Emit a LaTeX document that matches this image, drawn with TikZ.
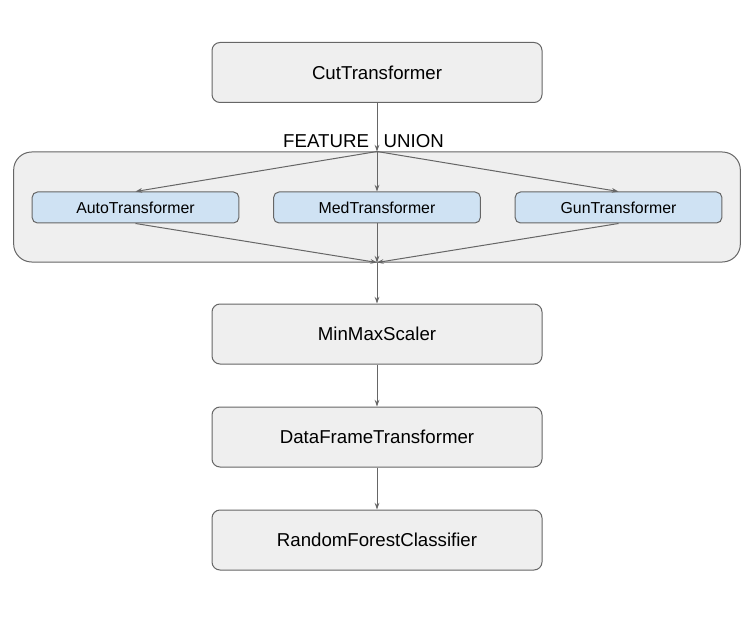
\documentclass[tikz,border=0pt]{standalone}
\usepackage{fontspec}
\setmainfont{Liberation Sans}
\usetikzlibrary{arrows.meta}

\definecolor{boxgray}{HTML}{EFEFEF}
\definecolor{linegray}{HTML}{666666}
\definecolor{stepblue}{HTML}{CFE2F3}

\tikzset{
    stage/.style={draw=linegray, fill=boxgray, line width=0.75pt, rounded corners=6pt,
        minimum width=247.5pt, minimum height=45pt, font=\fontsize{14}{16}\selectfont},
    substage/.style={draw=linegray, fill=stepblue, line width=0.75pt, rounded corners=4pt,
        minimum width=155pt, minimum height=23.25pt, font=\fontsize{11.9}{13}\selectfont},
    flow/.style={draw=linegray, line width=0.75pt, -{Stealth[length=5pt,width=3.5pt]}}
}

\begin{document}
\begin{tikzpicture}[x=0.75pt, y=-0.75pt]
        \useasboundingbox (0,0) rectangle (755,641);

        % feature union block
        \node[draw=linegray, fill=boxgray, line width=0.75pt, rounded corners=13.5pt,
            minimum width=545pt, minimum height=82.5pt] (union) at (377,207) {};
        \node[anchor=base, inner sep=0pt, font=\fontsize{14}{16}\selectfont] (unionlbl) at (363.5,148)
            {FEATURE\hspace{11pt}UNION};

        \node[substage] (auto) at (135.5,207.5) {AutoTransformer};
        \node[substage] (med) at (377,207.5) {MedTransformer};
        \node[substage] (gun) at (618.5,207.5) {GunTransformer};

        % pipeline steps
        \node[stage] (cut) at (377,72.5) {CutTransformer};
        \node[stage] (scaler) at (377,334) {MinMaxScaler};
        \node[stage] (frame) at (377,437) {DataFrameTransformer};
        \node[stage] (forest) at (377,540) {RandomForestClassifier};

        \draw[flow] (cut) -- (union.north);
        \foreach \t in {auto,med,gun} {
            \draw[flow] (union.north) -- (\t.north);
            \draw[flow] (\t.south) -- (union.south);
        }
        \draw[flow] (union.south) -- (scaler);
        \draw[flow] (scaler) -- (frame);
        \draw[flow] (frame) -- (forest);
    \end{tikzpicture}
\end{document}
